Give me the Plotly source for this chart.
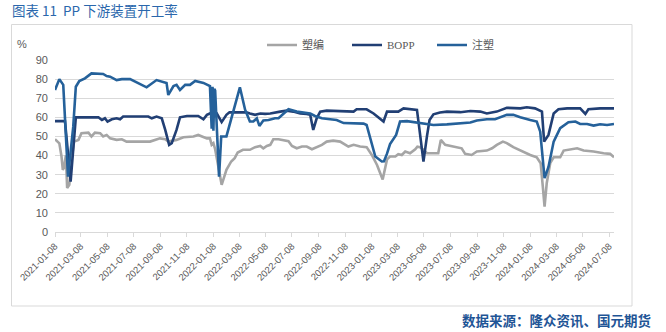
import plotly.graph_objects as go

# 塑编 (woven plastic) operating rate, %
suobian_dates = [
    "2021-01-08", "2021-01-18", "2021-01-23", "2021-01-26", "2021-01-29", "2021-02-02",
    "2021-02-05", "2021-02-10", "2021-02-15", "2021-02-21", "2021-03-03", "2021-03-10",
    "2021-03-26", "2021-04-02", "2021-04-10", "2021-04-22", "2021-04-29", "2021-05-07",
    "2021-05-15", "2021-05-30", "2021-06-11", "2021-06-22", "2021-08-15", "2021-08-26",
    "2021-09-07", "2021-09-19", "2021-09-26", "2021-10-15", "2021-10-31", "2021-11-23",
    "2021-12-04", "2021-12-24", "2021-12-31", "2022-01-04", "2022-01-08", "2022-01-12",
    "2022-01-22", "2022-01-27", "2022-02-07", "2022-02-18", "2022-02-26", "2022-03-05",
    "2022-03-17", "2022-04-02", "2022-04-14", "2022-04-26", "2022-05-03", "2022-05-11",
    "2022-05-19", "2022-05-26", "2022-06-07", "2022-06-18", "2022-06-30", "2022-07-08",
    "2022-07-19", "2022-07-31", "2022-08-11", "2022-08-23", "2022-09-03", "2022-09-15",
    "2022-09-26", "2022-10-11", "2022-10-27", "2022-11-07", "2022-11-15", "2022-11-27",
    "2022-12-12", "2022-12-27", "2023-01-08", "2023-01-20", "2023-01-27", "2023-02-02",
    "2023-02-12", "2023-02-19", "2023-03-03", "2023-03-10", "2023-03-18", "2023-03-26",
    "2023-04-06", "2023-04-18", "2023-04-23", "2023-04-29", "2023-05-07", "2023-05-15",
    "2023-06-10", "2023-06-16", "2023-06-26", "2023-07-07", "2023-07-23", "2023-08-03",
    "2023-08-11", "2023-08-26", "2023-09-07", "2023-09-30", "2023-10-12", "2023-10-23",
    "2023-11-06", "2023-11-15", "2023-11-30", "2023-12-16", "2024-01-08", "2024-01-23",
    "2024-02-01", "2024-02-06", "2024-02-10", "2024-02-15", "2024-02-23", "2024-03-02",
    "2024-03-17", "2024-03-25", "2024-04-09", "2024-04-25", "2024-05-10", "2024-06-02",
    "2024-06-25", "2024-07-10", "2024-07-19",
]
suobian_vals = [
    48.5, 46.4, 39.5, 32.5, 34.0, 40.0,
    23.0, 24.7, 37.7, 47.3, 48.2, 51.7,
    52.0, 50.0, 52.0, 51.7, 50.0, 50.8,
    49.0, 48.2, 48.5, 47.3, 47.3, 48.2,
    49.0, 48.5, 47.3, 48.2, 49.6, 50.0,
    50.8, 49.0, 49.0, 45.6, 46.5, 43.3,
    30.8, 24.7, 32.5, 36.9, 38.6, 41.6,
    43.0, 43.0, 44.4, 45.0, 43.8, 45.0,
    45.6, 48.5, 48.5, 48.0, 47.5, 45.0,
    43.8, 44.7, 44.7, 43.3, 44.4, 45.6,
    47.3, 47.8, 47.3, 45.6, 44.7, 45.6,
    44.7, 44.4, 40.3, 35.1, 31.0, 27.5,
    38.0, 39.5, 39.5, 40.7, 40.3, 42.1,
    41.2, 43.3, 44.7, 44.4, 43.0, 41.2,
    41.2, 48.2, 45.6, 45.0, 44.4, 43.8,
    40.9, 40.3, 42.1, 42.6, 43.8, 45.6,
    47.3, 46.5, 44.4, 42.6, 40.3, 39.1,
    36.0, 23.8, 13.3, 25.5, 36.0, 39.1,
    39.1, 42.6, 43.3, 43.8, 42.6, 42.1,
    41.2, 40.9, 39.1,
]

# BOPP operating rate, %
bopp_dates = [
    "2021-01-08", "2021-01-27", "2021-01-31", "2021-02-13", "2021-02-25", "2021-04-18",
    "2021-04-26", "2021-05-03", "2021-05-09", "2021-05-19", "2021-05-30", "2021-06-07",
    "2021-06-14", "2021-08-11", "2021-08-19", "2021-08-30", "2021-09-11", "2021-09-19",
    "2021-09-28", "2021-10-04", "2021-10-15", "2021-10-23", "2021-11-08", "2021-12-04",
    "2021-12-16", "2021-12-24", "2021-12-31", "2022-01-08", "2022-01-16", "2022-01-27",
    "2022-02-07", "2022-02-14", "2022-03-25", "2022-04-02", "2022-04-14", "2022-04-26",
    "2022-05-07", "2022-05-19", "2022-05-30", "2022-06-11", "2022-06-26", "2022-07-11",
    "2022-07-27", "2022-08-11", "2022-08-19", "2022-08-26", "2022-09-03", "2022-09-11",
    "2022-09-26", "2022-11-19", "2022-11-27", "2022-12-04", "2022-12-27", "2023-01-12",
    "2023-02-04", "2023-02-12", "2023-03-10", "2023-03-22", "2023-04-06", "2023-04-22",
    "2023-04-27", "2023-05-03", "2023-05-07", "2023-05-15", "2023-05-21", "2023-05-30",
    "2023-06-14", "2023-06-30", "2023-07-31", "2023-08-23", "2023-09-15", "2023-09-30",
    "2023-10-23", "2023-11-15", "2023-12-16", "2023-12-31", "2024-01-19", "2024-02-04",
    "2024-02-09", "2024-02-19", "2024-03-02", "2024-03-13", "2024-04-02", "2024-05-02",
    "2024-05-14", "2024-05-21", "2024-06-17", "2024-07-19",
]
bopp_vals = [
    58.0, 58.0, 58.0, 26.4, 60.0, 60.0,
    58.6, 59.5, 57.8, 59.0, 59.5, 59.0,
    60.4, 60.4, 59.5, 60.4, 59.5, 53.4,
    45.6, 46.5, 53.4, 60.0, 60.7, 60.7,
    59.0, 61.3, 62.0, 61.3, 62.0, 57.5,
    61.3, 62.6, 62.6, 62.0, 61.3, 62.0,
    61.8, 62.0, 62.6, 63.0, 63.5, 63.0,
    62.0, 61.8, 61.3, 53.4, 59.5, 63.0,
    63.5, 63.3, 63.0, 64.2, 64.2, 62.0,
    57.8, 63.0, 63.0, 64.7, 64.2, 63.9,
    55.0, 43.0, 36.9, 50.0, 58.6, 61.6,
    62.5, 63.0, 62.7, 63.3, 63.0, 62.0,
    63.0, 65.0, 64.7, 65.3, 64.7, 63.0,
    47.3, 50.8, 62.0, 64.2, 64.7, 64.7,
    61.8, 64.2, 64.7, 64.7,
]

# 注塑 (injection moulding) operating rate, %
zhusu_dates = [
    "2021-01-08", "2021-01-18", "2021-01-27", "2021-02-07", "2021-02-19", "2021-02-25",
    "2021-03-05", "2021-03-18", "2021-04-02", "2021-04-29", "2021-05-07", "2021-05-15",
    "2021-05-30", "2021-06-11", "2021-06-30", "2021-07-11", "2021-08-07", "2021-08-30",
    "2021-09-15", "2021-09-22", "2021-09-26", "2021-10-08", "2021-10-15", "2021-10-23",
    "2021-11-04", "2021-11-15", "2021-11-27", "2021-12-16", "2021-12-31", "2022-01-04",
    "2022-01-06", "2022-01-08", "2022-01-10", "2022-01-12", "2022-01-21", "2022-01-26",
    "2022-02-07", "2022-02-22", "2022-03-10", "2022-03-22", "2022-04-02", "2022-04-10",
    "2022-04-18", "2022-04-24", "2022-05-03", "2022-05-15", "2022-05-30", "2022-06-07",
    "2022-06-18", "2022-06-30", "2022-07-19", "2022-08-19", "2022-08-30", "2022-09-15",
    "2022-10-04", "2022-10-19", "2022-11-04", "2022-12-04", "2022-12-20", "2022-12-27",
    "2023-01-04", "2023-01-16", "2023-01-31", "2023-02-05", "2023-02-12", "2023-02-19",
    "2023-03-05", "2023-03-14", "2023-03-30", "2023-04-29", "2023-05-30", "2023-06-30",
    "2023-07-31", "2023-08-23", "2023-09-07", "2023-09-30", "2023-10-19", "2023-11-15",
    "2023-11-30", "2023-12-16", "2024-01-08", "2024-01-23", "2024-01-31", "2024-02-05",
    "2024-02-10", "2024-02-19", "2024-03-02", "2024-03-17", "2024-04-05", "2024-04-21",
    "2024-05-02", "2024-05-18", "2024-06-02", "2024-06-17", "2024-07-03", "2024-07-19",
]
zhusu_vals = [
    74.3, 80.0, 77.0, 29.0, 55.0, 76.0,
    79.0, 80.4, 83.0, 82.7, 81.6, 81.3,
    79.5, 80.0, 80.0, 78.7, 75.7, 79.5,
    78.7, 78.0, 71.7, 76.4, 77.0, 74.3,
    77.0, 77.0, 79.0, 78.0, 76.4, 54.0,
    76.0, 53.0, 75.0, 74.0, 29.0, 50.0,
    50.0, 62.0, 75.7, 64.0, 57.8, 57.8,
    59.5, 55.5, 58.3, 58.6, 59.5, 59.5,
    62.0, 64.2, 63.0, 62.0, 60.7, 59.5,
    59.0, 58.6, 57.0, 57.0, 56.7, 56.0,
    49.0, 39.5, 36.9, 37.0, 41.0, 46.0,
    50.8, 57.8, 58.0, 57.0, 56.0, 56.3,
    57.0, 57.3, 58.3, 59.0, 59.0, 61.3,
    61.3, 60.0, 58.6, 57.8, 52.5, 39.5,
    28.2, 34.0, 47.3, 54.3, 57.4, 57.8,
    56.5, 56.5, 55.7, 56.4, 56.0, 56.5,
]

# Category axis labels every two months
tick_dates = [
    "2021-01-08", "2021-03-08", "2021-05-08", "2021-07-08", "2021-09-08", "2021-11-08",
    "2022-01-08", "2022-03-08", "2022-05-08", "2022-07-08", "2022-09-08", "2022-11-08",
    "2023-01-08", "2023-03-08", "2023-05-08", "2023-07-08", "2023-09-08", "2023-11-08",
    "2024-01-08", "2024-03-08", "2024-05-08", "2024-07-08",
]
y_ticks = [0, 10, 20, 30, 40, 50, 60, 70, 80, 90]

GRAY = "#A5A5A5"
NAVY = "#213F74"
BLUE = "#25619A"
TEXT = "#595959"
GRID = "#D9D9D9"

fig = go.Figure()
fig.add_trace(go.Scatter(x=suobian_dates, y=suobian_vals, name="塑编", mode="lines",
                         line=dict(color=GRAY, width=2.6)))
fig.add_trace(go.Scatter(x=bopp_dates, y=bopp_vals, name="BOPP", mode="lines",
                         line=dict(color=NAVY, width=2.6)))
fig.add_trace(go.Scatter(x=zhusu_dates, y=zhusu_vals, name="注塑", mode="lines",
                         line=dict(color=BLUE, width=2.6)))

# plot-area pixel geometry (for placing frame and annotations in paper units)
L, R, T, B = 55, 614, 60, 232
W, H = R - L, B - T


def px(x):
    return (x - L) / W


def py(y):
    return (B - y) / H


fig.update_layout(
    width=666, height=332,
    margin=dict(l=L, r=666 - R, t=T, b=332 - B),
    paper_bgcolor="white", plot_bgcolor="white",
    font=dict(family="Liberation Sans, Noto Sans CJK SC, sans-serif", color=TEXT),
    showlegend=True,
    legend=dict(
        orientation="h", x=px(262), y=py(45), xanchor="left", yanchor="middle",
        font=dict(family="Liberation Serif, Noto Sans CJK SC, serif", size=11, color=TEXT),
        entrywidth=40, entrywidthmode="pixels", itemwidth=30,
        bgcolor="rgba(0,0,0,0)", tracegroupgap=0,
    ),
    title=dict(
        text="图表 11  PP 下游装置开工率",
        x=12 / 666, xanchor="left", y=1 - 11 / 332, yanchor="middle",
        font=dict(family="Noto Sans CJK SC, sans-serif", size=13.5, color="#2A67AC"),
    ),
    xaxis=dict(
        type="date", range=["2021-01-08", "2024-07-19"],
        tickvals=tick_dates, ticktext=tick_dates, tickangle=-45,
        tickfont=dict(size=9.5, color=TEXT),
        showgrid=False, showline=True, linecolor=GRID, linewidth=1,
        ticks="outside", ticklen=4, tickcolor=GRID, zeroline=False,
    ),
    yaxis=dict(
        range=[0, 90], tickvals=y_ticks,
        tickfont=dict(size=11, color=TEXT),
        showgrid=True, gridcolor=GRID, gridwidth=1,
        showline=False, zeroline=False, ticks="", ticklabelstandoff=6,
    ),
    shapes=[
        dict(type="rect", xref="paper", yref="paper",
             x0=px(11.5), x1=px(632), y0=py(306), y1=py(24.5),
             line=dict(color=GRID, width=1), fillcolor="rgba(0,0,0,0)", layer="below"),
    ],
    annotations=[
        dict(text="%", xref="paper", yref="paper", x=px(15), y=py(44),
             xanchor="left", yanchor="middle", showarrow=False,
             font=dict(size=11, color=TEXT)),
        dict(text="<b>数据来源：隆众资讯、国元期货</b>", xref="paper", yref="paper",
             x=px(653), y=py(320), xanchor="right", yanchor="middle", showarrow=False,
             font=dict(family="Noto Sans CJK SC, sans-serif", size=13.5, color="#1F5596")),
    ],
)

fig.write_html("out.html")
